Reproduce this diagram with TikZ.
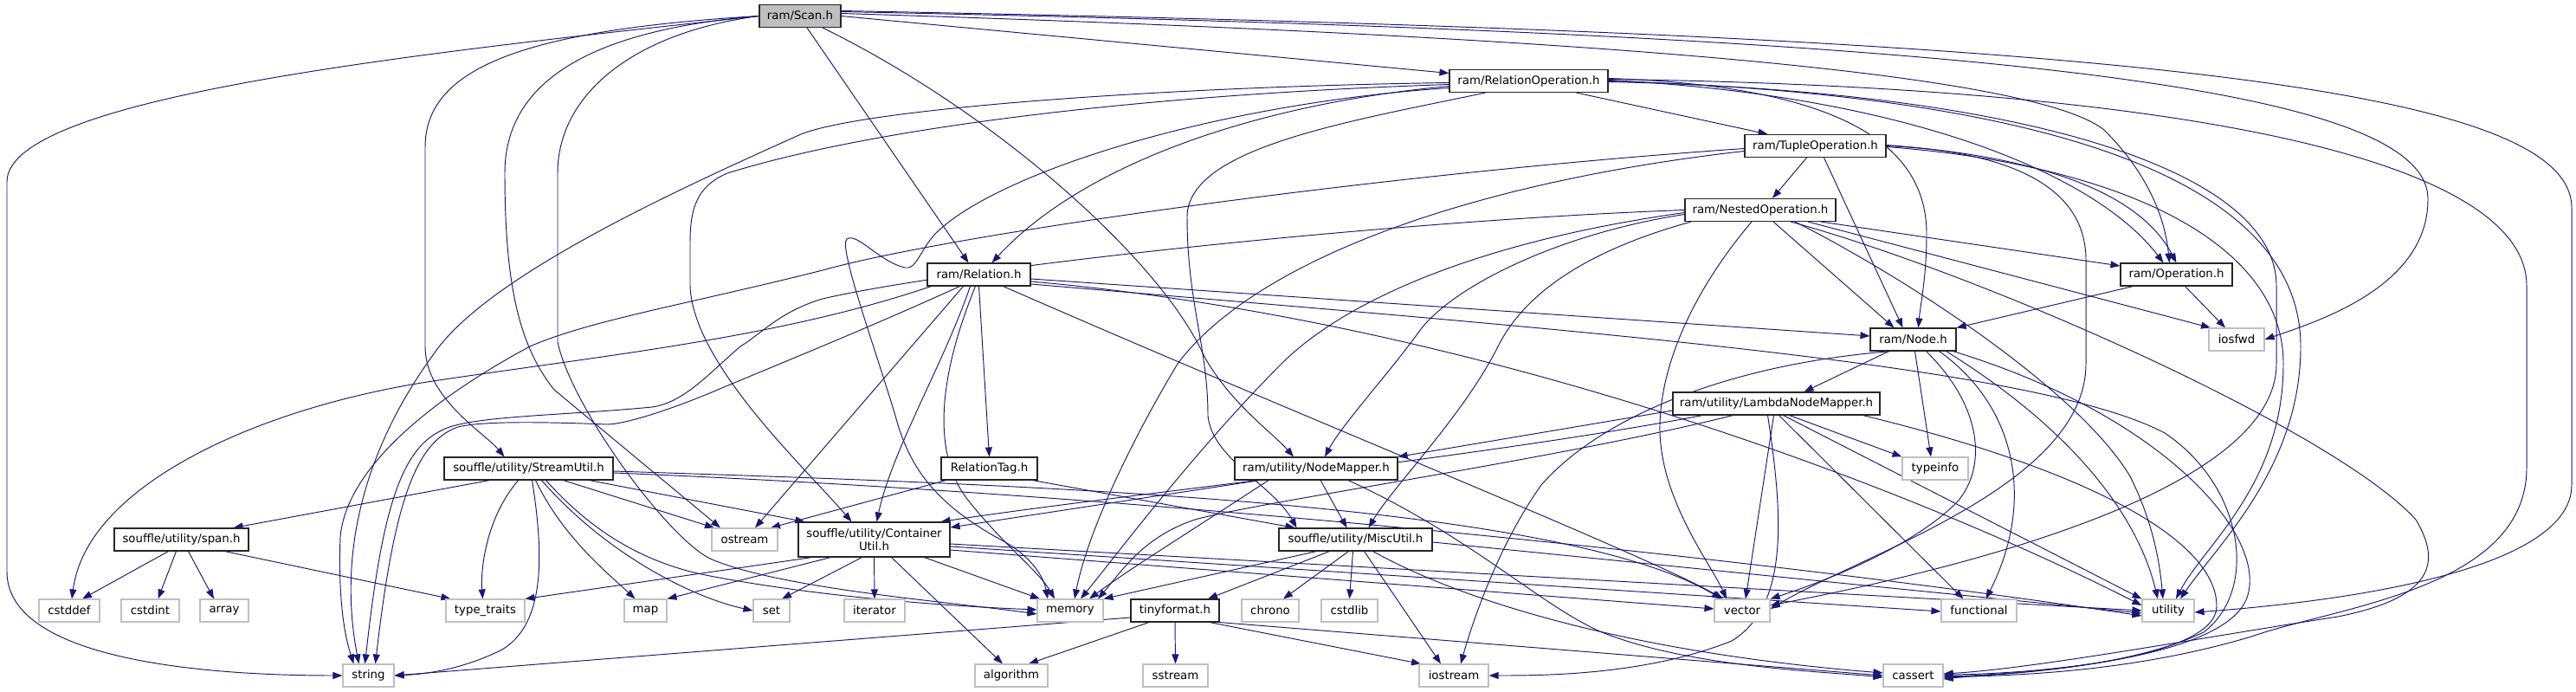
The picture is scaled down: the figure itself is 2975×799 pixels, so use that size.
\documentclass[tikz,border=0pt]{standalone}
\usepackage{fontspec}
\setmainfont{DejaVu Sans}
\usetikzlibrary{arrows.meta}
\definecolor{edgeblue}{RGB}{25,25,112}
\definecolor{grayfill}{RGB}{191,191,191}
\definecolor{extborder}{RGB}{191,191,191}
\pgfdeclarelayer{bg}
\pgfsetlayers{bg,main}
\begin{document}
\begin{tikzpicture}[x=1pt,y=-1pt,
  box/.style={rectangle, inner sep=0pt, minimum height=26pt, line width=1.1pt, fill=white, font=\fontsize{13.3}{14.5}\selectfont, text=black},
  proj/.style={box, draw=black!85},
  ext/.style={box, draw=extborder},
  mainbox/.style={box, draw=black!85, fill=grayfill},
  e/.style={draw=edgeblue, line width=0.95pt, -{Triangle[length=11pt,width=8pt]}}
]
\useasboundingbox (0,0) rectangle (2975,799);
% nodes
\node[mainbox, minimum width=94pt] (scan) at (924,18.5) {ram/Scan.h};
\node[proj, minimum width=183pt] (relop) at (1765.5,93.5) {ram/RelationOperation.h};
\node[proj, minimum width=163pt] (tupop) at (2096.5,168.5) {ram/TupleOperation.h};
\node[proj, minimum width=174pt] (nestop) at (2033,242.5) {ram/NestedOperation.h};
\node[proj, minimum width=129pt] (oper) at (2513.5,317) {ram/Operation.h};
\node[proj, minimum width=119pt] (rel) at (1130.5,317) {ram/Relation.h};
\node[proj, minimum width=99pt] (nodeh) at (2209.5,392) {ram/Node.h};
\node[ext, minimum width=64pt] (iosfwd) at (2583,392) {iosfwd};
\node[proj, minimum width=239pt] (lambda) at (2051.5,466) {ram/utility/LambdaNodeMapper.h};
\node[ext, minimum width=76pt] (typeinfo) at (2235,541) {typeinfo};
\node[proj, minimum width=195pt] (stream) at (610.5,541) {souffle/utility/StreamUtil.h};
\node[proj, minimum width=111pt] (reltag) at (1142.5,541) {RelationTag.h};
\node[proj, minimum width=188pt] (nmap) at (1520,541) {ram/utility/NodeMapper.h};
\node[proj, minimum width=155pt] (span) at (209.5,623) {souffle/utility/span.h};
\node[ext, minimum width=76pt] (ostream) at (860,623) {ostream};
\node[proj, minimum width=175pt, minimum height=40pt, align=center] (cont) at (1009.5,623) {souffle/utility/Container\\Util.h};
\node[proj, minimum width=177pt] (misc) at (1565.5,623) {souffle/utility/MiscUtil.h};
\node[ext, minimum width=70pt] (cstddef) at (80,705) {cstddef};
\node[ext, minimum width=67pt] (cstdint) at (173.5,705) {cstdint};
\node[ext, minimum width=56pt] (array) at (259,705) {array};
\node[ext, minimum width=91pt] (ttraits) at (560.5,705) {type\_traits};
\node[ext, minimum width=49pt] (map) at (745.5,705) {map};
\node[ext, minimum width=42pt] (set) at (891,705) {set};
\node[ext, minimum width=70pt] (iterator) at (1010,705) {iterator};
\node[ext, minimum width=76pt] (memory) at (1236,705) {memory};
\node[proj, minimum width=102pt] (tinyf) at (1357,705) {tinyformat.h};
\node[ext, minimum width=66pt] (chrono) at (1467,705) {chrono};
\node[ext, minimum width=65pt] (cstdlib) at (1558.5,705) {cstdlib};
\node[ext, minimum width=64pt] (vector) at (2012,705) {vector};
\node[ext, minimum width=87pt] (functional) at (2285.5,705) {functional};
\node[ext, minimum width=60pt] (utility) at (2504,705) {utility};
\node[ext, minimum width=59pt] (string) at (425.5,780) {string};
\node[ext, minimum width=84pt] (algorithm) at (1168,780) {algorithm};
\node[ext, minimum width=75pt] (sstream) at (1357.5,780) {sstream};
\node[ext, minimum width=80pt] (iostream) at (1679,780) {iostream};
\node[ext, minimum width=69pt] (cassert) at (2209.5,780) {cassert};

\begin{pgfonlayer}{bg}
\fill[white] (0,0) rectangle (2975,799);
% Scan.h
\draw[e] (scan.west) .. controls (500,60) and (8,110) .. (8,210) -- (8,660) .. controls (8,765) and (250,780) .. (string.west);
\draw[e] (scan.west) .. controls (600,35) and (491,80) .. (491,170) -- (491,400) .. controls (491,460) and (560,500) .. ([xshift=-28pt]stream.north);
\draw[e] (scan.west) .. controls (680,35) and (583,95) .. (583,200) .. controls (583,330) and (600,400) .. (640,450) -- ([xshift=-28pt]ostream.north);
\draw[e] (scan.west) .. controls (730,38) and (644,110) .. (644,200) -- (644,395) .. controls (660,470) and (770,620) .. (820,645) .. controls (900,680) and (1100,695) .. ([yshift=-4pt]memory.west);
\draw[e] ([xshift=8pt]scan.south) -- ([xshift=-12pt]rel.north);
\draw[e] ([xshift=26pt]scan.south) .. controls (1150,130) and (1340,300) .. (1390,410) .. controls (1420,465) and (1470,500) .. ([xshift=-26pt]nmap.north);
\draw[e] (scan.east) -- ([yshift=9pt]relop.west);
\draw[e] ([yshift=3pt]scan.east) .. controls (1600,35) and (2330,70) .. (2430,150) .. controls (2480,200) and (2500,250) .. ([xshift=-8pt]oper.north);
\draw[e] ([yshift=5pt]scan.east) .. controls (2300,40) and (2804,100) .. (2804,230) .. controls (2804,330) and (2680,370) .. (iosfwd.east);
\draw[e] ([yshift=6pt]scan.east) .. controls (2450,40) and (2970,100) .. (2970,240) -- (2970,560) .. controls (2970,660) and (2700,695) .. ([yshift=-2pt]utility.east);
% RelationOperation.h
\draw[e] ([xshift=55pt]relop.south) -- ([xshift=-55pt]tupop.north);
\draw[e] ([yshift=-6pt]relop.west) .. controls (1450,120) and (1250,190) .. ([xshift=15pt]rel.north);
\draw[e] ([yshift=-2pt]relop.west) .. controls (1350,100) and (1000,125) .. (925,155) .. controls (780,220) and (560,320) .. (500,410) .. controls (420,520) and (390,640) .. ([xshift=-11pt]string.north);
\draw[e] ([yshift=-4pt]relop.west) .. controls (1300,110) and (1000,150) .. (840,200) .. controls (805,215) and (797,240) .. (797,280) -- (797,330) .. controls (800,420) and (930,540) .. ([xshift=-26pt]cont.north);
\draw[e] ([yshift=-8pt]relop.west) .. controls (1400,120) and (1150,200) .. (1080,270) .. controls (1062,290) and (1058,312) .. (1045,309) .. controls (1015,302) and (990,268) .. (978,276) .. controls (968,285) and (1010,400) .. (1034,480) .. controls (1050,540) and (1080,580) .. (1150,620) .. controls (1190,640) and (1205,665) .. ([xshift=-26pt]memory.north);
\draw[e] ([xshift=-50pt]relop.south) .. controls (1560,140) and (1372,170) .. (1371,250) .. controls (1371,350) and (1395,400) .. (1395,480) .. controls (1400,530) and (1470,560) .. ([xshift=-68pt]misc.north);
\draw[e] ([yshift=3pt]relop.east) .. controls (2150,100) and (2225,180) .. (2225,270) .. controls (2225,320) and (2218,350) .. ([xshift=6pt]nodeh.north);
\draw[e] ([yshift=1pt]relop.east) .. controls (2200,110) and (2420,200) .. ([xshift=-15pt]oper.north);
\draw[e] (relop.east) .. controls (2400,110) and (2657,220) .. (2657,400) .. controls (2657,540) and (2560,630) .. ([xshift=14pt]utility.north);
\draw[e] ([yshift=-1pt]relop.east) .. controls (2350,105) and (2629,200) .. (2629,330) -- (2629,420) .. controls (2629,560) and (2300,650) .. ([yshift=6pt]vector.east);
\draw[e] ([yshift=2pt]relop.east) .. controls (2500,100) and (2918,180) .. (2918,330) -- (2918,540) .. controls (2918,680) and (2700,700) .. (2600,735) .. controls (2450,780) and (2300,780) .. ([yshift=-2pt]cassert.east);
% TupleOperation.h
\draw[e] ([xshift=-10pt]tupop.south) -- ([xshift=14pt]nestop.north);
\draw[e] ([yshift=1pt]tupop.east) .. controls (2350,180) and (2470,220) .. (oper.north);
\draw[e] ([xshift=10pt]tupop.south) -- ([xshift=-12pt]nodeh.north);
\draw[e] ([yshift=-3pt]tupop.west) .. controls (1600,200) and (1100,270) .. (950,312) .. controls (800,350) and (680,370) .. (612,400) .. controls (500,460) and (400,540) .. (393,620) .. controls (390,700) and (400,740) .. ([xshift=-17pt]string.north);
\draw[e] ([yshift=-6pt]tupop.west) .. controls (1700,210) and (1450,300) .. (1360,420) .. controls (1300,520) and (1255,620) .. ([xshift=5pt]memory.north);
\draw[e] (tupop.east) .. controls (2330,175) and (2409,220) .. (2409,300) -- (2409,420) .. controls (2409,560) and (2150,640) .. ([yshift=2pt]vector.east);
\draw[e] ([yshift=-1pt]tupop.east) .. controls (2450,190) and (2637,280) .. (2637,420) .. controls (2637,560) and (2545,630) .. ([xshift=9pt]utility.north);
% NestedOperation.h
\draw[e] ([xshift=70pt]nestop.south) -- ([yshift=10pt]oper.west);
\draw[e] ([xshift=15pt]nestop.south) -- ([xshift=-22pt]nodeh.north);
\draw[e] ([xshift=55pt]nestop.south) -- ([xshift=-30pt]iosfwd.north);
\draw[e] ([xshift=35pt]nestop.south) .. controls (2300,320) and (2700,500) .. (2790,600) .. controls (2820,650) and (2810,690) .. (2700,712) .. controls (2550,735) and (2350,772) .. ([yshift=2pt]cassert.east);
\draw[e] ([xshift=-10pt]nestop.south) .. controls (1960,330) and (1915,420) .. (1917,500) .. controls (1920,580) and (1975,650) .. ([xshift=-18pt]vector.north);
\draw[e] ([yshift=-5pt]nestop.west) .. controls (1800,270) and (1680,330) .. (1641,380) .. controls (1605,430) and (1550,490) .. ([xshift=10pt]nmap.north);
\draw[e] ([xshift=-80pt]nestop.south) .. controls (1830,290) and (1760,340) .. (1730,400) .. controls (1690,480) and (1610,560) .. ([xshift=15pt]misc.north);
\draw[e] ([yshift=-3pt]nestop.west) .. controls (1700,280) and (1550,350) .. (1480,420) .. controls (1380,520) and (1290,640) .. ([xshift=12pt]memory.north);
\draw[e] ([xshift=40pt]nestop.south) .. controls (2200,320) and (2400,450) .. (2460,550) .. controls (2490,610) and (2495,660) .. ([xshift=-6pt]utility.north);
\draw[e] (nestop.west) .. controls (1600,255) and (1100,310) .. (950,345) .. controls (900,360) and (880,385) .. (855,400) .. controls (820,430) and (790,465) .. (753,470) .. controls (650,480) and (540,480) .. (510,497) .. controls (460,520) and (440,600) .. ([xshift=-4pt]string.north);
% Operation.h
\draw[e] ([xshift=-50pt]oper.south) -- (nodeh.north east);
\draw[e] ([xshift=10pt]oper.south) -- ([xshift=-13pt]iosfwd.north);
% Relation.h
\draw[e] (rel.south) -- (reltag.north);
\draw[e] ([yshift=-5pt]rel.east) -- ([yshift=4pt]nodeh.west);
\draw[e] ([yshift=-8pt]rel.east) .. controls (1700,370) and (2200,560) .. ([yshift=6pt]utility.west);
\draw[e] ([yshift=-11pt]rel.east) .. controls (1800,380) and (2350,420) .. (2500,500) .. controls (2590,560) and (2610,680) .. (2545,730) .. controls (2450,775) and (2300,778) .. ([yshift=-4pt]cassert.east);
\draw[e] ([xshift=-55pt]rel.south) .. controls (900,390) and (700,410) .. (500,440) .. controls (300,470) and (100,560) .. ([xshift=3pt]cstddef.north);
\draw[e] ([xshift=-22pt]rel.south) .. controls (1000,380) and (900,420) .. (829,450) .. controls (770,475) and (720,490) .. (701,490) .. controls (650,488) and (560,485) .. (529,493) .. controls (480,510) and (455,580) .. ([xshift=8pt]string.north);
\draw[e] ([xshift=-18pt]rel.south) -- ([xshift=12pt]ostream.north);
\draw[e] ([xshift=-10pt]rel.south) .. controls (1090,420) and (1030,520) .. ([xshift=3pt]cont.north);
\draw[e] ([xshift=-4pt]rel.south) .. controls (1090,420) and (1070,520) .. (1120,580) .. controls (1160,630) and (1200,660) .. ([xshift=-18pt]memory.north);
\draw[e] ([xshift=28pt]rel.south) .. controls (1500,480) and (1900,640) .. ([xshift=-22pt]vector.north);
% RelationTag.h
\draw[e] ([xshift=-50pt]reltag.south) -- ([xshift=30pt]ostream.north);
\draw[e] ([xshift=50pt]reltag.south) -- ([xshift=-70pt]misc.north);
% StreamUtil.h
\draw[e] ([xshift=-45pt]stream.south) -- ([xshift=60pt]span.north);
\draw[e] ([xshift=-12pt]stream.south) .. controls (560,600) and (555,660) .. ([xshift=-3pt]ttraits.north);
\draw[e] ([xshift=4pt]stream.south) .. controls (628,640) and (630,720) .. (580,750) .. controls (540,770) and (500,778) .. (string.east);
\draw[e] ([xshift=8pt]stream.south) .. controls (650,620) and (700,660) .. ([xshift=-12pt]map.north);
\draw[e] ([xshift=15pt]stream.south) .. controls (700,640) and (800,690) .. (set.west);
\draw[e] ([xshift=40pt]stream.south) -- ([xshift=-35pt]ostream.north);
\draw[e] ([xshift=70pt]stream.south) -- ([xshift=-80pt]cont.north);
\draw[e] ([xshift=20pt]stream.south) .. controls (680,610) and (740,650) .. (820,665) .. controls (950,690) and (1100,700) .. ([yshift=1pt]memory.west);
\draw[e] ([yshift=-3pt]stream.east) .. controls (1200,560) and (1800,580) .. ([xshift=-24pt]vector.north);
\draw[e] ([yshift=-5pt]stream.east) .. controls (1300,570) and (2000,640) .. ([yshift=-6pt]utility.west);
% span.h
\draw[e] ([xshift=-15pt]span.south) -- ([xshift=15pt]cstddef.north);
\draw[e] ([xshift=-6pt]span.south) -- ([xshift=9pt]cstdint.north);
\draw[e] ([xshift=8pt]span.south) -- ([xshift=-12pt]array.north);
\draw[e] ([xshift=50pt]span.south) -- ([xshift=-40pt]ttraits.north);
% ContainerUtil.h
\draw[e] ([xshift=-72pt]cont.south) -- (ttraits.north east);
\draw[e] ([xshift=-50pt]cont.south) -- (map.north east);
\draw[e] ([xshift=-14pt]cont.south) -- ([xshift=12pt]set.north);
\draw[e] (cont.south) -- (iterator.north);
\draw[e] ([xshift=20pt]cont.south) -- ([xshift=-10pt]algorithm.north);
\draw[e] ([xshift=58pt]cont.south) -- ([xshift=-35pt]memory.north);
\draw[e] ([yshift=-12pt]cont.east) -- ([yshift=2pt]vector.west);
\draw[e] ([yshift=-8pt]cont.east) -- ([yshift=-1pt]functional.west);
\draw[e] ([yshift=-5pt]cont.east) -- (utility.west);
% MiscUtil.h
\draw[e] ([xshift=-30pt]misc.south) -- ([xshift=38pt]tinyf.north);
\draw[e] ([xshift=-45pt]misc.south) -- (memory.north east);
\draw[e] ([xshift=-8pt]misc.south) -- ([xshift=15pt]chrono.north);
\draw[e] ([xshift=-3pt]misc.south) -- (cstdlib.north);
\draw[e] ([xshift=10pt]misc.south) -- ([xshift=-15pt]iostream.north);
\draw[e] ([xshift=20pt]misc.south) .. controls (1700,700) and (1900,755) .. ([yshift=3pt]cassert.west);
\draw[e] ([yshift=-3pt]misc.east) -- ([yshift=-3pt]utility.west);
% tinyformat.h
\draw[e] ([yshift=-8pt]tinyf.west) -- (string.east);
\draw[e] ([xshift=-30pt]tinyf.south) -- ([xshift=20pt]algorithm.north);
\draw[e] (tinyf.south) -- (sstream.north);
\draw[e] ([xshift=40pt]tinyf.south) -- ([xshift=-38pt]iostream.north);
\draw[e] (tinyf.south east) -- (cassert.west);
% NodeMapper.h
\draw[e] ([xshift=-65pt]nmap.south) -- ([yshift=14pt]cont.east);
\draw[e] ([xshift=-55pt]nmap.south) .. controls (1380,610) and (1300,660) .. ([xshift=22pt]memory.north);
\draw[e] ([xshift=5pt]nmap.south) -- ([xshift=-10pt]misc.north);
\draw[e] ([xshift=37pt]nmap.south) .. controls (1700,620) and (1780,700) .. (1850,730) .. controls (1950,770) and (2100,775) .. ([yshift=-2pt]cassert.west);
% LambdaNodeMapper.h
\draw[e] ([yshift=-8pt]lambda.west) -- (nmap.north east);
\draw[e] ([xshift=-85pt]lambda.south) .. controls (1700,530) and (1300,570) .. ([xshift=77pt]cont.north);
\draw[e] ([xshift=-50pt]lambda.south) .. controls (1800,530) and (1450,580) .. (1380,600) .. controls (1320,620) and (1295,660) .. ([xshift=32pt]memory.north);
\draw[e] ([xshift=15pt]lambda.south) -- (typeinfo.north west);
\draw[e] ([xshift=-3pt]lambda.south) -- ([xshift=4pt]vector.north);
\draw[e] ([xshift=3pt]lambda.south) -- ([xshift=-18pt]functional.north);
\draw[e] ([xshift=8pt]lambda.south) -- (utility.north west);
\draw[e] ([xshift=-10pt]lambda.south) .. controls (2060,600) and (2065,700) .. (2000,740) .. controls (1900,780) and (1780,780) .. (iostream.east);
\draw[e] ([xshift=100pt]lambda.south) .. controls (2400,540) and (2560,620) .. (2560,700) .. controls (2560,760) and (2350,778) .. ([yshift=-1pt]cassert.east);
% Node.h
\draw[e] ([xshift=-28pt]nodeh.south) -- ([xshift=32pt]lambda.north);
\draw[e] ([xshift=2pt]nodeh.south) -- ([xshift=-5pt]typeinfo.north);
\draw[e] ([xshift=15pt]nodeh.south) .. controls (2290,470) and (2295,540) .. (2260,580) .. controls (2200,640) and (2080,680) .. (vector.north east);
\draw[e] ([xshift=30pt]nodeh.south) .. controls (2330,470) and (2350,580) .. ([xshift=8pt]functional.north);
\draw[e] ([xshift=38pt]nodeh.south) .. controls (2400,500) and (2470,600) .. ([xshift=-12pt]utility.north);
\draw[e] ([xshift=46pt]nodeh.south) .. controls (2500,480) and (2620,620) .. (2595,690) .. controls (2570,760) and (2350,778) .. ([yshift=1pt]cassert.east);
\draw[e] ([xshift=-25pt]nodeh.south) .. controls (2000,420) and (1850,480) .. (1780,560) .. controls (1730,630) and (1700,720) .. ([xshift=8pt]iostream.north);
\end{pgfonlayer}
\end{tikzpicture}
\end{document}
